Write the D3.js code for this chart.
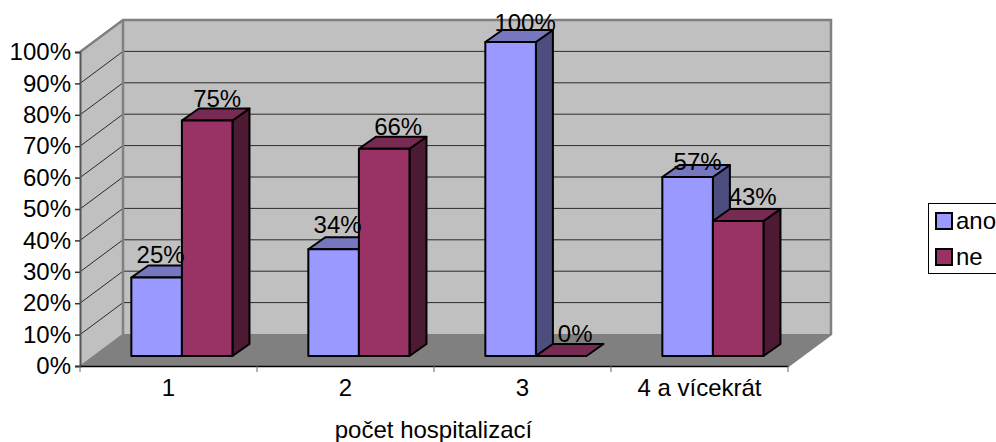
<!DOCTYPE html>
<html>
<head>
<meta charset="utf-8">
<script src="https://cdn.jsdelivr.net/npm/d3@7"></script>
<style>
	html, body { margin: 0; padding: 0; background: #fff; overflow: hidden; }
	svg { display: block; }
	text { font-family: "Liberation Sans", Arial, sans-serif; fill: #000; }
</style>
</head>
<body>
<div id="chart"></div>
<script>
const categories = ["1", "2", "3", "4 a vícekrát"];
const seriesNames = ["ano", "ne"];
const ano = [25, 34, 100, 57];
const ne = [75, 66, 0, 43];
const percentTicks = [0, 10, 20, 30, 40, 50, 60, 70, 80, 90, 100];
const axisTitle = "počet hospitalizací";

const width = 996, height = 442;
const fontSize = 24;
const fill = { ano: "#9999ff", ne: "#993366" };
const topFill = { ano: "#7777c0", ne: "#772a52" };
const sideFill = { ano: "#4d4d80", ne: "#4d1a33" };

// depth of the box behind the front axes, and of the bars inside it
const wallDx = 43, wallDy = -32;
const barShiftX = 13.4, barShiftY = -10;
const barDx = 17, barDy = -12;

// label nudges per bar, in drawing order, from the bar's centre and back edge
const labelDx = [4, 10, 4, 14, 14.5, 14, 10, 14.5];
const labelDy = [-3, -2, -4, -2, 1, -2, 5, -4];

const x = d3.scaleBand().domain(categories).range([80, 788]);
const xInner = d3.scaleBand().domain(seriesNames)
	.range([0, x.bandwidth()])
	.paddingInner(0)
	.paddingOuter(0.75);
const y = d3.scaleLinear().domain([0, 100]).range([366, 52]);

const svg = d3.select("#chart").append("svg")
	.attr("width", width)
	.attr("height", height);

function poly(points) {
	return points.map(p => p.join(",")).join(" ");
}

const x0 = x.range()[0], x1 = x.range()[1];
const y0 = y(0), y100 = y(100);

// back wall, side wall, floor
svg.append("polygon")
	.attr("points", poly([[x0 + wallDx, y100 + wallDy], [x1 + wallDx, y100 + wallDy], [x1 + wallDx, y0 + wallDy], [x0 + wallDx, y0 + wallDy]]))
	.attr("fill", "#c0c0c0");
svg.append("polygon")
	.attr("points", poly([[x0, y100], [x0 + wallDx, y100 + wallDy], [x0 + wallDx, y0 + wallDy], [x0, y0]]))
	.attr("fill", "#c0c0c0");
svg.append("polygon")
	.attr("points", poly([[x0, y0], [x0 + wallDx, y0 + wallDy], [x1 + wallDx, y0 + wallDy], [x1, y0]]))
	.attr("fill", "#808080");

// gridlines run across the side wall and then along the back wall
svg.append("g").selectAll("polyline")
	.data(percentTicks.filter(d => d > 0 && d < 100))
	.join("polyline")
	.attr("points", d => poly([[x0, y(d)], [x0 + wallDx, y(d) + wallDy], [x1 + wallDx, y(d) + wallDy]]))
	.attr("fill", "none")
	.attr("stroke", "#2a2a2a")
	.attr("stroke-width", 1);

// grey outline of the walls
svg.append("polyline")
	.attr("points", poly([[x0, y100], [x0 + wallDx, y100 + wallDy], [x1 + wallDx, y100 + wallDy], [x1 + wallDx, y0 + wallDy], [x1, y0]]))
	.attr("fill", "none")
	.attr("stroke", "#808080")
	.attr("stroke-width", 2.5);
svg.append("line")
	.attr("x1", x0 + wallDx).attr("y1", y100 + wallDy)
	.attr("x2", x0 + wallDx).attr("y2", y0 + wallDy)
	.attr("stroke", "#808080")
	.attr("stroke-width", 2.5);
svg.append("line")
	.attr("x1", x0 + wallDx).attr("y1", y0 + wallDy)
	.attr("x2", x0).attr("y2", y0)
	.attr("stroke", "#808080")
	.attr("stroke-width", 1);

const rows = [];
categories.forEach(function (c, i) {
	rows.push({ cat: c, name: "ano", value: ano[i] });
	rows.push({ cat: c, name: "ne", value: ne[i] });
});

function barLeft(d) { return x(d.cat) + xInner(d.name) + barShiftX; }
const barBase = y0 + barShiftY;
function barTop(d) { return y(d.value) + barShiftY; }

const bars = svg.append("g").selectAll("g")
	.data(rows)
	.join("g")
	.attr("stroke", "#000")
	.attr("stroke-width", 2)
	.attr("stroke-linejoin", "round");

bars.filter(d => d.value > 0).append("polygon")
	.attr("points", function (d) {
		let r = barLeft(d) + xInner.bandwidth();
		return poly([[r, barTop(d)], [r + barDx, barTop(d) + barDy], [r + barDx, barBase + barDy], [r, barBase]]);
	})
	.attr("fill", d => sideFill[d.name]);

bars.append("polygon")
	.attr("points", function (d) {
		let l = barLeft(d), r = l + xInner.bandwidth();
		return poly([[l, barTop(d)], [l + barDx, barTop(d) + barDy], [r + barDx, barTop(d) + barDy], [r, barTop(d)]]);
	})
	.attr("fill", d => topFill[d.name]);

bars.filter(d => d.value > 0).append("rect")
	.attr("x", barLeft)
	.attr("y", barTop)
	.attr("width", xInner.bandwidth())
	.attr("height", d => barBase - barTop(d))
	.attr("fill", d => fill[d.name]);

// value labels sit around the back edge of each bar top
svg.append("g").selectAll("text")
	.data(rows)
	.join("text")
	.attr("x", (d, i) => barLeft(d) + xInner.bandwidth() / 2 + labelDx[i])
	.attr("y", (d, i) => barTop(d) + barDy + labelDy[i])
	.attr("text-anchor", "middle")
	.attr("font-size", fontSize)
	.text(d => d.value + "%");

// front axes
const yAxis = d3.axisLeft(y)
	.tickValues(percentTicks)
	.tickFormat(d => d + "%")
	.tickSize(5)
	.tickPadding(4);
const yG = svg.append("g")
	.attr("transform", "translate(" + x0 + ",0)")
	.call(yAxis);
yG.select(".domain").attr("stroke", "#555").attr("stroke-width", 2);
yG.selectAll(".tick line").attr("stroke", "#333").attr("stroke-width", 1.5);
yG.selectAll("text").attr("font-size", fontSize).attr("font-family", null);

const xAxis = d3.axisBottom(x).tickSize(0).tickPadding(13);
const xG = svg.append("g")
	.attr("transform", "translate(0," + y0 + ")")
	.call(xAxis);
xG.select(".domain").attr("stroke", "#000").attr("stroke-width", 1.5);
xG.selectAll("text").attr("font-size", fontSize).attr("font-family", null);

// separators between the groups
svg.append("g").selectAll("line")
	.data(categories.map(c => x(c)).concat([x1]))
	.join("line")
	.attr("x1", d => d).attr("x2", d => d)
	.attr("y1", y0).attr("y2", y0 + 6)
	.attr("stroke", "#666")
	.attr("stroke-width", 1);

svg.append("text")
	.attr("x", 433.5)
	.attr("y", 438)
	.attr("text-anchor", "middle")
	.attr("font-size", fontSize)
	.text(axisTitle);

// legend, its box runs off the right edge
const legend = svg.append("g");
legend.append("rect")
	.attr("x", 928.5).attr("y", 203.5)
	.attr("width", 90).attr("height", 70)
	.attr("fill", "#fff")
	.attr("stroke", "#000")
	.attr("stroke-width", 1);
const legendRow = d3.scalePoint().domain(seriesNames).range([221, 257]);
seriesNames.forEach(function (name) {
	legend.append("rect")
		.attr("x", 936).attr("y", legendRow(name) - 8)
		.attr("width", 16).attr("height", 16)
		.attr("fill", fill[name])
		.attr("stroke", "#000")
		.attr("stroke-width", 2);
	legend.append("text")
		.attr("x", 956).attr("y", legendRow(name) + 8)
		.attr("font-size", fontSize)
		.text(name);
});
</script>
</body>
</html>
